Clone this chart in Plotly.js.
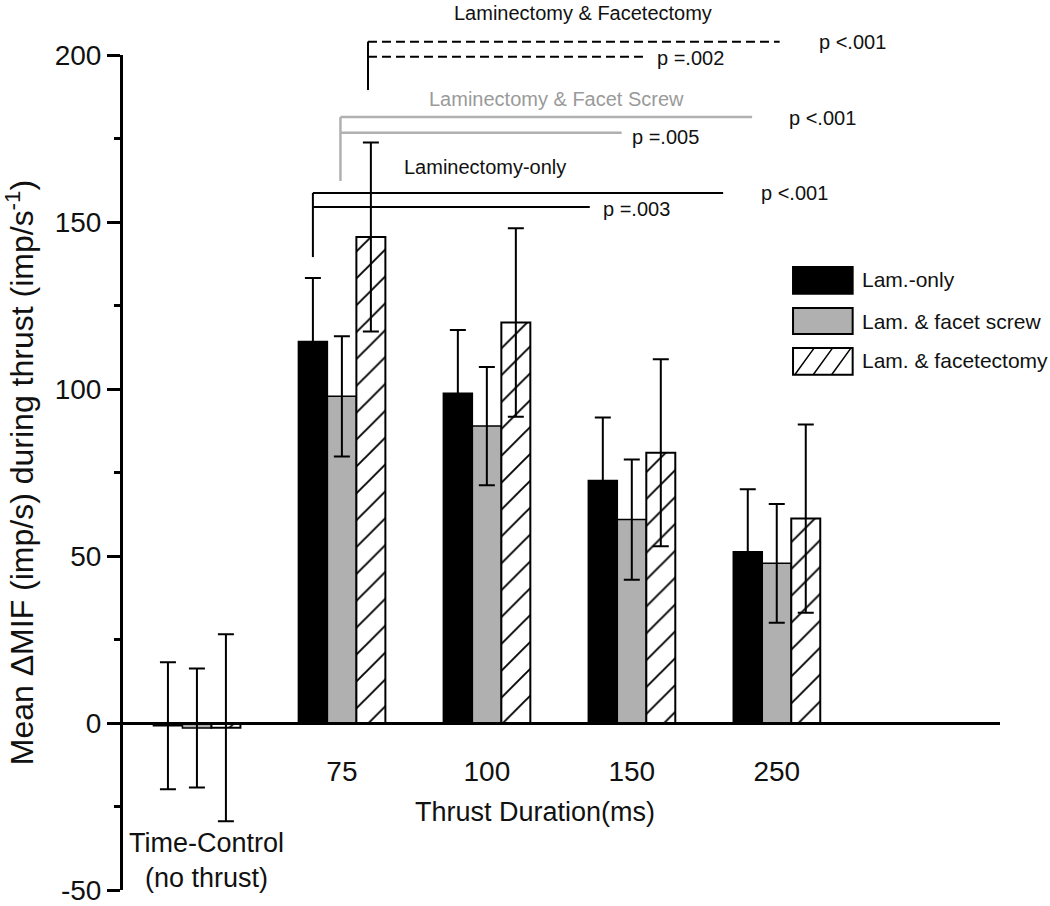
<!DOCTYPE html>
<html><head><meta charset="utf-8">
<script src="https://cdn.plot.ly/plotly-3.0.1.min.js"></script>
<style>html,body{margin:0;padding:0;background:#fff}#chart{width:1050px;height:906px}</style>
</head><body><div id="chart"></div>
<script>
// ---- data ----
const categories = ['Time-Control (no thrust)', '75', '100', '150', '250'];
const xTickLabels = ['75', '100', '150', '250'];
const yTickValues = [-50, 0, 50, 100, 150, 200];
const yTickLabels = ['-50', '0', '50', '100', '150', '200'];
const seriesNames = ['Lam.-only', 'Lam. & facet screw', 'Lam. & facetectomy'];
const lamOnly      = [-0.8, 114.2, 98.7, 72.6, 51.3];
const lamOnlyErr   = [19.0, 19.0, 19.0, 18.9, 18.7];
const lamScrew     = [-1.5, 97.8, 88.9, 60.9, 47.8];
const lamScrewErr  = [17.8, 18.0, 17.7, 18.0, 17.8];
const lamFacet     = [-1.4, 145.5, 119.9, 80.9, 61.2];
const lamFacetErr  = [28.0, 28.3, 28.2, 28.0, 28.2];
const sigTitles = ['Laminectomy-only', 'Laminectomy & Facet Screw', 'Laminectomy & Facetectomy'];
const sigPvalues = [['p <.001', 'p =.003'], ['p <.001', 'p =.005'], ['p <.001', 'p =.002']];
const xTitle = 'Thrust Duration(ms)';
const controlLabel = 'Time-Control<br>(no thrust)';
const yTitle = 'Mean \u0394MIF (imp/s) during thrust (imp/s<sup>-1</sup>)';

// ---- styling / layout ----
const FONT = 'Liberation Sans, Arial, Helvetica, sans-serif';
const GRAY = '#b0b0b0';
const Y0 = -50, Y1 = 200;
const yp = v => (v - Y0) / (Y1 - Y0);
const err = (arr) => ({type: 'data', array: arr, visible: true, color: '#000', thickness: 2, width: 8});

const traces = [
  {type: 'bar', name: seriesNames[0], x: categories, y: lamOnly, error_y: err(lamOnlyErr),
   marker: {color: '#000', line: {color: '#000', width: 1.5}}, showlegend: false},
  {type: 'bar', name: seriesNames[1], x: categories, y: lamScrew, error_y: err(lamScrewErr),
   marker: {color: GRAY, line: {color: '#000', width: 1.5}}, showlegend: false},
  {type: 'bar', name: seriesNames[2], x: categories, y: lamFacet, error_y: err(lamFacetErr),
   marker: {color: '#fff', pattern: {shape: '/', fgcolor: '#000', bgcolor: '#fff', size: 19, solidity: 0.1},
            line: {color: '#000', width: 2}}, showlegend: false}
];

function seg(x0, v0, x1, v1, color, width, dash) {
  return {type: 'line', xref: 'x', yref: 'paper', x0: x0, x1: x1, y0: yp(v0), y1: yp(v1),
          line: {color: color, width: width, dash: dash || 'solid'}};
}
const shapes = [
  // Laminectomy-only bracket
  seg(0.8, 139.5, 0.8, 158.7, '#000', 2),
  seg(0.8, 158.7, 3.63, 158.7, '#000', 2),
  seg(0.8, 154.5, 2.71, 154.5, '#000', 2),
  // Facet screw bracket
  seg(0.99, 162.3, 0.99, 181.4, GRAY, 2.5),
  seg(0.99, 181.4, 3.83, 181.4, GRAY, 2.5),
  seg(0.99, 176.7, 2.93, 176.7, GRAY, 2.5),
  // Facetectomy bracket
  seg(1.18, 189.5, 1.18, 204.0, '#000', 2),
  seg(1.18, 204.0, 4.02, 204.0, '#000', 2, '9px,5px'),
  seg(1.18, 199.5, 3.10, 199.5, '#000', 2, '9px,5px'),
  // custom legend swatches
  {type: 'rect', xref: 'paper', yref: 'paper', x0: 0.764, x1: 0.832, y0: 0.714, y1: 0.746,
   fillcolor: '#000', line: {color: '#000', width: 2}},
  {type: 'rect', xref: 'paper', yref: 'paper', x0: 0.764, x1: 0.832, y0: 0.666, y1: 0.697,
   fillcolor: GRAY, line: {color: '#000', width: 2}},
  {type: 'rect', xref: 'paper', yref: 'paper', x0: 0.764, x1: 0.832, y0: 0.617, y1: 0.649,
   fillcolor: '#fff', line: {color: '#000', width: 2}},
  {type: 'path', xref: 'paper', yref: 'paper',
   path: 'M0.766,0.617 L0.788,0.649 M0.787,0.617 L0.809,0.649 M0.808,0.617 L0.830,0.649',
   line: {color: '#000', width: 1.5}}
];

function txt(x, v, text, opts) {
  return Object.assign({x: x, y: yp(v), xref: 'x', yref: 'paper', text: text, showarrow: false,
    font: {family: FONT, size: 20, color: '#111'}, xanchor: 'left', yanchor: 'middle'}, opts || {});
}
const annotations = [
  txt(2.66, 212.6, sigTitles[2], {xanchor: 'center'}),
  txt(4.28, 203.9, sigPvalues[2][0]),
  txt(3.16, 199.1, sigPvalues[2][1]),
  txt(2.48, 186.8, sigTitles[1], {xanchor: 'center', font: {family: FONT, size: 20, color: '#9a9a9a'}}),
  txt(4.07, 181.1, sigPvalues[1][0]),
  txt(2.99, 175.5, sigPvalues[1][1]),
  txt(1.99, 166.5, sigTitles[0], {xanchor: 'center'}),
  txt(3.88, 158.7, sigPvalues[0][0]),
  txt(2.79, 153.9, sigPvalues[0][1]),
  // legend labels
  {x: 0.840, y: 0.731, xref: 'paper', yref: 'paper', text: seriesNames[0], showarrow: false, xanchor: 'left', yanchor: 'middle', font: {family: FONT, size: 21, color: '#111'}},
  {x: 0.840, y: 0.681, xref: 'paper', yref: 'paper', text: seriesNames[1], showarrow: false, xanchor: 'left', yanchor: 'middle', font: {family: FONT, size: 21, color: '#111'}},
  {x: 0.840, y: 0.634, xref: 'paper', yref: 'paper', text: seriesNames[2], showarrow: false, xanchor: 'left', yanchor: 'middle', font: {family: FONT, size: 21, color: '#111'}},
  // axis title & control label
  {x: 0.47, y: -26.6, xref: 'paper', yref: 'y', text: xTitle, showarrow: false, xanchor: 'center', yanchor: 'middle', font: {family: FONT, size: 27, color: '#111'}},
  {x: categories[0], y: -41.3, xref: 'x', yref: 'y', xshift: 10, text: controlLabel, showarrow: false, xanchor: 'center', yanchor: 'middle', align: 'center', font: {family: FONT, size: 27, color: '#111'}}
];

const layout = {
  width: 1050, height: 906,
  margin: {l: 123, r: 50, t: 55, b: 16, pad: 0},
  paper_bgcolor: '#fff', plot_bgcolor: '#fff',
  font: {family: FONT, color: '#111'},
  barmode: 'group', bargap: 0.4, bargroupgap: 0,
  showlegend: false,
  xaxis: {
    type: 'category', categoryorder: 'array', categoryarray: categories,
    range: [-0.51, 5.54], anchor: 'free', position: yp(0),
    showline: true, linewidth: 3, linecolor: '#000', ticks: '',
    tickmode: 'array', tickvals: categories.slice(1), ticktext: xTickLabels,
    tickfont: {family: FONT, size: 28, color: '#111'}, ticklabelstandoff: 22,
    showgrid: false, zeroline: false, fixedrange: true
  },
  yaxis: {
    range: [Y0, Y1], tickmode: 'array', tickvals: yTickValues, ticktext: yTickLabels,
    ticks: 'outside', ticklen: 13, tickwidth: 3, tickcolor: '#000',
    minor: {dtick: 25, tick0: 0, ticks: 'outside', ticklen: 6, tickwidth: 3, tickcolor: '#000', showgrid: false},
    showline: true, linewidth: 3, linecolor: '#000',
    tickfont: {family: FONT, size: 28, color: '#111'},
    title: {text: yTitle, font: {family: FONT, size: 32, color: '#111'}, standoff: 12},
    showgrid: false, zeroline: false, fixedrange: true
  },
  shapes: shapes,
  annotations: annotations
};

Plotly.newPlot('chart', traces, layout, {displayModeBar: false, staticPlot: true});
</script>
</body></html>
